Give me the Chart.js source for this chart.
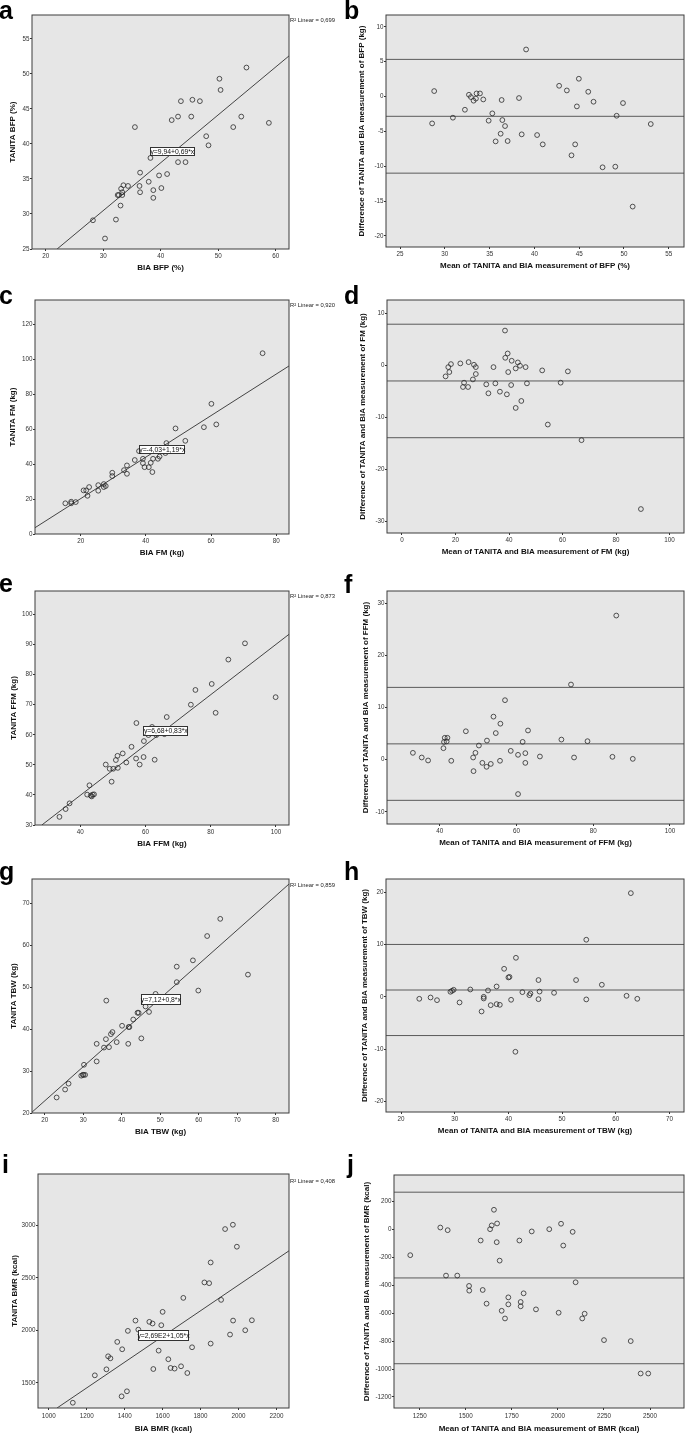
<!DOCTYPE html>
<html><head><meta charset="utf-8">
<script src="https://cdn.jsdelivr.net/npm/chart.js@4.4.1/dist/chart.umd.min.js"></script>
<style>
html,body{margin:0;padding:0;background:#fff;width:685px;height:1434px;overflow:hidden;position:relative;font-family:"Liberation Sans",Arial,sans-serif;}
canvas{position:absolute;}
.lbl{position:absolute;font-weight:bold;font-size:25px;line-height:25px;color:#000;}
.r2{position:absolute;font-size:5.8px;line-height:7px;color:#222;white-space:nowrap;}
.eq{position:absolute;background:#fff;border:1px solid #333;font-size:6.8px;color:#111;box-sizing:border-box;display:flex;align-items:center;justify-content:center;white-space:nowrap;}
</style></head><body>
<script>
// ---------- tick labels ----------
const aXTicks=[20,30,40,50,60], aYTicks=[25,30,35,40,45,50,55];
const bXTicks=[25,30,35,40,45,50,55], bYTicks=[-20,-15,-10,-5,0,5,10];
const cXTicks=[20,40,60,80], cYTicks=[0,20,40,60,80,100,120];
const dXTicks=[0,20,40,60,80,100], dYTicks=[-30,-20,-10,0,10];
const eXTicks=[40,60,80,100], eYTicks=[30,40,50,60,70,80,90,100];
const fXTicks=[40,60,80,100], fYTicks=[-10,0,10,20,30];
const gXTicks=[20,30,40,50,60,70,80], gYTicks=[20,30,40,50,60,70];
const hXTicks=[20,30,40,50,60,70], hYTicks=[-20,-10,0,10,20];
const iXTicks=[1000,1200,1400,1600,1800,2000,2200], iYTicks=[1500,2000,2500,3000];
const jXTicks=[1250,1500,1750,2000,2250,2500], jYTicks=[-1200,-1000,-800,-600,-400,-200,0,200];

// ---------- a: BFP ----------
const aBIA=[54.9,50.2,50.4,43.5,45.5,46.8,41.9,43.0,45.3,35.5,54.0,52.6,58.8,47.9,48.3,38.2,43.0,44.3,36.4,39.7,41.1,37.9,33.5,34.3,36.3,33.1,38.7,40.1,33.3,36.4,32.5,32.7,33.3,38.7,33.0,32.2,28.2,30.3];
const aTANITA=[50.9,49.3,47.7,46.1,46.3,46.1,43.4,43.9,43.9,42.4,43.9,42.4,43.0,41.1,39.8,38.0,37.4,37.4,35.9,35.5,35.7,34.6,34.1,34.0,34.0,33.6,33.4,33.7,33.1,33.1,32.7,32.7,32.7,32.3,31.2,29.2,29.1,26.5];
const aFitX=[21.97,62.3], aFitY=[25,52.56];
// ---------- b ----------
const bMean=[39.07,28.81,28.58,30.90,32.24,32.69,32.91,33.21,33.47,33.54,33.92,34.29,35.30,34.89,36.34,36.42,38.28,36.72,36.23,35.67,37.01,38.58,40.30,40.93,42.76,43.62,44.96,46.01,44.74,46.60,44.55,44.14,47.61,49.03,49.18,49.89,52.99,50.97];
const bDiff=[6.75,0.78,-3.86,-3.04,-1.9,0.25,-0.08,-0.6,-0.3,0.44,0.44,-0.42,-2.42,-3.47,-0.5,-3.38,-0.22,-4.24,-5.34,-6.44,-6.39,-5.43,-5.53,-6.87,1.54,0.87,2.55,0.68,-1.42,-0.75,-6.87,-8.44,-10.16,-10.07,-2.76,-0.94,-3.95,-15.8];
const bLimits=[5.33,-2.84,-11.0];
// ---------- c: FM ----------
const cBIA=[75.8,60.1,57.8,61.6,49.1,52.1,46.3,37.9,36.6,39.1,39.1,39.6,40.9,41.5,42.2,43.7,44.2,42.0,33.3,34.2,34.2,29.7,29.7,25.4,25.4,27.1,27.7,27.1,22.6,20.9,21.7,22.1,15.3,17.1,17.1,18.5,46.0,45.0,41.2];
const cTANITA=[103.6,74.6,61.2,62.8,60.5,53.4,52.1,47.5,42.4,43.1,40.6,38.3,38.3,40.8,43.1,43.1,44.4,35.5,36.6,39.3,34.5,35.1,33.2,28.0,24.8,28.6,27.5,26.9,26.9,25.0,25.0,21.9,17.6,18.5,17.6,18.3,46.4,48.4,48.0];
const cFitX=[6.0,83.9], cFitY=[3.6,96.3];
// ---------- d ----------
const dMean=[38.5,38.6,39.5,41.0,43.3,44.1,42.5,46.2,39.7,34.2,16.3,17.3,17.7,18.3,21.8,24.9,26.9,27.6,27.6,26.5,23.2,22.8,24.7,31.5,34.9,32.3,36.6,39.2,40.8,46.7,44.6,42.5,52.4,62.0,59.3,54.5,67.1,89.3];
const dDiff=[6.68,1.45,2.28,0.88,0.56,-0.08,-0.59,-0.34,-1.29,-0.34,-2.12,-0.34,-1.29,0.24,0.37,0.62,0.11,-0.34,-1.67,-2.70,-3.33,-4.16,-4.16,-3.65,-3.46,-5.37,-5.06,-5.57,-3.78,-3.46,-6.84,-8.18,-0.97,-1.16,-3.33,-11.37,-14.37,-27.6];
const dLimits=[7.9,-3.0,-13.9];
// ---------- e: FFM ----------
const eBIA=[90.5,85.4,80.3,75.3,73.9,99.9,81.5,66.5,57.2,59.5,55.7,53.0,51.4,50.9,59.4,57.1,62.8,54.1,58.2,47.8,49.0,50.1,51.5,49.6,42.8,42.1,43.2,43.8,43.5,44.2,36.7,35.5,33.6,63.3,65.8,60.9,62.9,62.0];
const eTANITA=[90.4,85.0,76.9,74.9,70.0,72.5,67.3,65.9,63.9,57.9,56.0,53.8,53.0,51.6,52.6,52.1,51.7,50.8,50.1,50.1,48.7,48.7,49.0,44.4,43.2,40.1,39.8,40.1,39.5,40.2,37.2,35.3,32.7,59.9,60.2,59.9,61.7,62.6];
const eFitX=[28.2,104], eFitY=[30,93.4];
// ---------- f ----------
const fMean=[86.0,74.2,57.0,54.0,55.8,54.6,63.0,46.8,42.0,41.3,41.1,41.8,40.96,52.3,61.6,50.2,58.5,71.7,78.5,49.3,62.3,60.4,66.1,75.0,85.0,90.3,33.0,35.3,36.96,43.0,48.7,51.1,53.3,52.2,55.7,62.3,48.8,60.4];
const fDiff=[27.6,14.4,11.4,8.25,6.9,5.1,5.6,5.45,4.2,4.2,3.4,3.5,2.21,3.67,3.42,2.72,1.7,3.86,3.55,1.32,1.26,0.94,0.62,0.43,0.56,0.17,1.32,0.43,-0.14,-0.2,0.43,-0.6,-0.8,-1.35,-0.2,-0.6,-2.18,-6.57];
const fLimits=[13.85,3.04,-7.77];
// ---------- g: TBW ----------
const gBIA=[65.6,62.2,58.5,54.3,54.3,59.9,72.8,48.8,36.0,46.2,47.1,44.1,44.4,43.0,40.1,37.6,37.2,35.9,41.8,42.0,38.7,36.7,35.4,33.5,41.7,45.1,33.5,30.2,30.1,29.9,29.5,30.5,26.2,25.3,23.1];
const gTANITA=[66.3,62.2,56.4,54.9,51.2,49.2,53.0,48.4,46.8,45.4,44.1,43.9,43.9,42.3,40.8,39.3,38.8,37.6,40.5,40.5,36.9,35.7,35.6,36.5,36.5,37.8,32.3,31.5,29.1,29.1,28.9,29.1,27.0,25.6,23.7];
const gFitX=[16.7,83.46], gFitY=[20.2,74.6];
// ---------- h ----------
const hMean=[62.8,54.5,41.4,39.2,40.0,40.2,45.6,52.6,57.4,37.8,23.4,25.5,26.7,29.2,29.5,29.8,32.9,36.2,42.6,44.1,43.9,45.8,48.5,35.4,35.4,30.9,35.0,36.7,37.8,38.4,40.5,45.6,54.5,62.0,64.0,41.3];
const hDiff=[19.8,10.9,7.45,5.35,3.7,3.8,3.2,3.2,2.3,1.97,-0.38,-0.13,-0.64,0.96,1.15,1.34,1.40,1.21,0.89,0.64,0.32,1.0,0.76,0.0,-0.32,-1.08,-2.8,-1.6,-1.4,-1.53,-0.57,-0.45,-0.5,0.19,-0.38,-10.5];
const hLimits=[10.0,1.3,-7.4];
// ---------- i: BMR ----------
const iBIA=[1970,1929,1991,1853,1820,1845,1908,1709,1600,1530,1547,1593,1457,1472,1417,1361,1387,1313,1325,1304,1243,1127,1384,1412,1579,1630,1551,1642,1663,1697,1730,1755,1853,1955,1971,2035,2070];
const iTANITA=[3006,2965,2797,2647,2457,2450,2291,2310,2177,2082,2066,2050,2094,2008,1996,1891,1821,1754,1735,1630,1573,1312,1373,1421,1808,1726,1633,1643,1637,1659,1595,1840,1875,1961,2094,2002,2097];
const iFitX=[1044,2265.5], iFitY=[1262,2758];
// ---------- j ----------
const jMean=[1199,1362,1402,1653,1641,1632,1670,1581,1668,1684,1791,1858,1953,2017,2080,2029,1393,1454,1518,1519,1592,1613,1695,1731,1731,1798,1798,1814,1713,1881,2004,2096,2132,2145,2250,2395,2449,2490];
const jDiff=[-185,13,-6,140,28,1,42,-80,-92,-224,-80,-15,1,40,-18,-116,-331,-331,-405,-439,-434,-532,-583,-487,-537,-520,-551,-458,-638,-573,-597,-379,-638,-604,-793,-800,-1032,-1032];
const jLimits=[266,-348,-962];

const FONT='"Liberation Sans", Arial, sans-serif';
const plotBox={
  id:'plotBox',
  beforeDraw(ch){const {ctx,chartArea:a}=ch;ctx.save();ctx.fillStyle='#e6e6e6';ctx.fillRect(a.left,a.top,a.right-a.left,a.bottom-a.top);ctx.restore();},
  afterDraw(ch){const {ctx,chartArea:a}=ch;ctx.save();ctx.strokeStyle='#3c3c3c';ctx.lineWidth=1;ctx.strokeRect(a.left,a.top,a.right-a.left,a.bottom-a.top);ctx.restore();}
};
const pts=(xs,ys)=>xs.map((x,i)=>({x,y:ys[i]}));

function axis(range,ticks,title,isX,size,tickPad,titlePad){
  return {
    type:'linear',min:range[0],max:range[1],
    afterBuildTicks:s=>{s.ticks=ticks.map(v=>({value:v}));},
    afterFit:s=>{if(isX)s.height=size;else s.width=size;},
    grid:{drawOnChartArea:false,drawTicks:true,tickLength:2,color:'#333',lineWidth:1},
    border:{display:false},
    ticks:{autoSkip:false,maxRotation:0,minRotation:0,padding:tickPad,font:{family:FONT,size:6.3},color:'#333',callback:v=>String(v)},
    title:{display:true,text:title,font:{family:FONT,size:8,weight:'bold'},color:'#111',padding:titlePad}
  };
}

const panels=[
 {col:0,box:[32,289,15,249],xr:[17.6,62.3],yr:[25,58.4],xt:aXTicks,yt:aYTicks,xTitle:'BIA BFP (%)',yTitle:'TANITA BFP (%)',X:aBIA,Y:aTANITA,fx:aFitX,fy:aFitY,yTC:12.7,xTO:19,xTP:1.2},
 {col:1,box:[386,684,15,247],xr:[23.43,56.7],yr:[-21.6,11.7],xt:bXTicks,yt:bYTicks,xTitle:'Mean of TANITA and BIA measurement of BFP (%)',yTitle:'Difference of TANITA and BIA measurement of BFP (kg)',X:bMean,Y:bDiff,lim:bLimits,yTC:362,xTO:19,xTP:1.2},
 {col:0,box:[35,289,300,534],xr:[6.0,83.9],yr:[0,134.1],xt:cXTicks,yt:cYTicks,xTitle:'BIA FM (kg)',yTitle:'TANITA FM (kg)',X:cBIA,Y:cTANITA,fx:cFitX,fy:cFitY,yTC:12.7,xTO:19,xTP:1.2},
 {col:1,box:[387,684,300,533],xr:[-5.6,105.4],yr:[-32.2,12.55],xt:dXTicks,yt:dYTicks,xTitle:'Mean of TANITA and BIA measurement of FM (kg)',yTitle:'Difference of TANITA and BIA measurement of FM (kg)',X:dMean,Y:dDiff,lim:dLimits,yTC:362.7,xTO:19,xTP:1.2},
 {col:0,box:[35,289,591,825],xr:[26.1,104],yr:[30,107.8],xt:eXTicks,yt:eYTicks,xTitle:'BIA FFM (kg)',yTitle:'TANITA FFM (kg)',X:eBIA,Y:eTANITA,fx:eFitX,fy:eFitY,yTC:14,xTO:19,xTP:1.2},
 {col:1,box:[387,684,591,824],xr:[26.25,103.65],yr:[-12.3,32.3],xt:fXTicks,yt:fYTicks,xTitle:'Mean of TANITA and BIA measurement of FFM (kg)',yTitle:'Difference of TANITA and BIA measurement of FFM (kg)',X:fMean,Y:fDiff,lim:fLimits,yTC:366,xTO:19,xTP:1.2},
 {col:0,box:[32,289,879,1113],xr:[16.7,83.46],yr:[20,75.8],xt:gXTicks,yt:gYTicks,xTitle:'BIA TBW (kg)',yTitle:'TANITA TBW (kg)',X:gBIA,Y:gTANITA,fx:gFitX,fy:gFitY,yTC:13.3,xTO:19,xTP:1.2},
 {col:1,box:[386,684,879,1112],xr:[17.2,72.7],yr:[-22.0,22.5],xt:hXTicks,yt:hYTicks,xTitle:'Mean of TANITA and BIA measurement of TBW (kg)',yTitle:'Difference of TANITA and BIA measurement of TBW (kg)',X:hMean,Y:hDiff,lim:hLimits,yTC:364.7,xTO:19,xTP:1.2},
 {col:0,box:[38,289,1174,1408],xr:[943.7,2265.5],yr:[1262,3489],xt:iXTicks,yt:iYTicks,xTitle:'BIA BMR (kcal)',yTitle:'TANITA BMR (kcal)',X:iBIA,Y:iTANITA,fx:iFitX,fy:iFitY,yTC:15,xTO:21,xTP:2.5},
 {col:1,box:[394,684,1175,1408],xr:[1110.8,2684],yr:[-1279,389],xt:jXTicks,yt:jYTicks,xTitle:'Mean of TANITA and BIA measurement of BMR (kcal)',yTitle:'Difference of TANITA and BIA measurement of BMR (kcal)',X:jMean,Y:jDiff,lim:jLimits,yTC:366.3,xTO:21,xTP:2.5}
];

function makeChart(p){
  const cx=p.col?342:0, cw=p.col?343:342;
  const [L,R,T,B]=p.box;
  const PT=6, XH=28;
  const cy=T-PT, ch=B-cy+XH;
  const c=document.createElement('canvas');
  c.width=cw;c.height=ch;
  c.style.left=cx+'px';c.style.top=cy+'px';c.style.width=cw+'px';c.style.height=ch+'px';
  document.body.appendChild(c);
  const yW=L-cx, pr=cx+cw-R;
  const datasets=[{data:pts(p.X,p.Y),showLine:false,pointRadius:2.4,pointBorderWidth:0.8,pointBorderColor:'#2a2a2a',pointBackgroundColor:'rgba(0,0,0,0)'}];
  if(p.fx){datasets.push({data:pts(p.fx,p.fy),showLine:true,pointRadius:0,borderColor:'#1a1a1a',borderWidth:0.8,fill:false});}
  if(p.lim){p.lim.forEach(v=>datasets.push({data:[{x:p.xr[0],y:v},{x:p.xr[1],y:v}],showLine:true,pointRadius:0,borderColor:'#5a5a5a',borderWidth:1,fill:false}));}
  new Chart(c,{
    type:'scatter',
    data:{datasets},
    options:{
      responsive:false,animation:false,devicePixelRatio:1,events:[],
      layout:{autoPadding:false,padding:{left:0,right:pr,top:PT,bottom:0}},
      plugins:{legend:{display:false},tooltip:{enabled:false},title:{display:false}},
      scales:{
        x:axis(p.xr,p.xt,p.xTitle,true,XH,p.xTP,{top:0,bottom:XH-p.xTO-4.8}),
        y:axis(p.yr,p.yt,p.yTitle,false,yW,0.5,{top:p.yTC-cx-4.8,bottom:0})
      }
    },
    plugins:[plotBox]
  });
}
panels.forEach(makeChart);

// overlays: panel letters, R² labels, equation boxes
const letters=[['a',-1,-2],['b',344,-2],['c',-1,283],['d',344,283],['e',-1,571],['f',344,571.5],['g',-1,859],['h',344,859],['i',2,1152],['j',347,1152]];
letters.forEach(([t,x,y])=>{const d=document.createElement('div');d.className='lbl';d.textContent=t;d.style.left=x+'px';d.style.top=y+'px';document.body.appendChild(d);});
const r2=[['0,699',17.2],['0,920',302.2],['0,873',593.2],['0,859',881.5],['0,408',1177.8]];
r2.forEach(([v,y])=>{const d=document.createElement('div');d.className='r2';d.innerHTML='R\u00b2 Linear = '+v;d.style.left='290px';d.style.top=y+'px';document.body.appendChild(d);});
const eqs=[['y=9,94+0,69*x',150,147.3,44.7,8.7],['y=-4,03+1,19*x',139.3,445,46,9],['y=6,68+0,83*x',143.3,726,45,9.7],['y=7,12+0,8*x',140.7,994,40.3,11],['y=2,69E2+1,05*x',137.7,1330,51.6,10.7]];
eqs.forEach(([t,x,y,w,h])=>{const d=document.createElement('div');d.className='eq';d.textContent=t;d.style.left=x+'px';d.style.top=y+'px';d.style.width=w+'px';d.style.height=h+'px';document.body.appendChild(d);});
</script>
</body></html>
